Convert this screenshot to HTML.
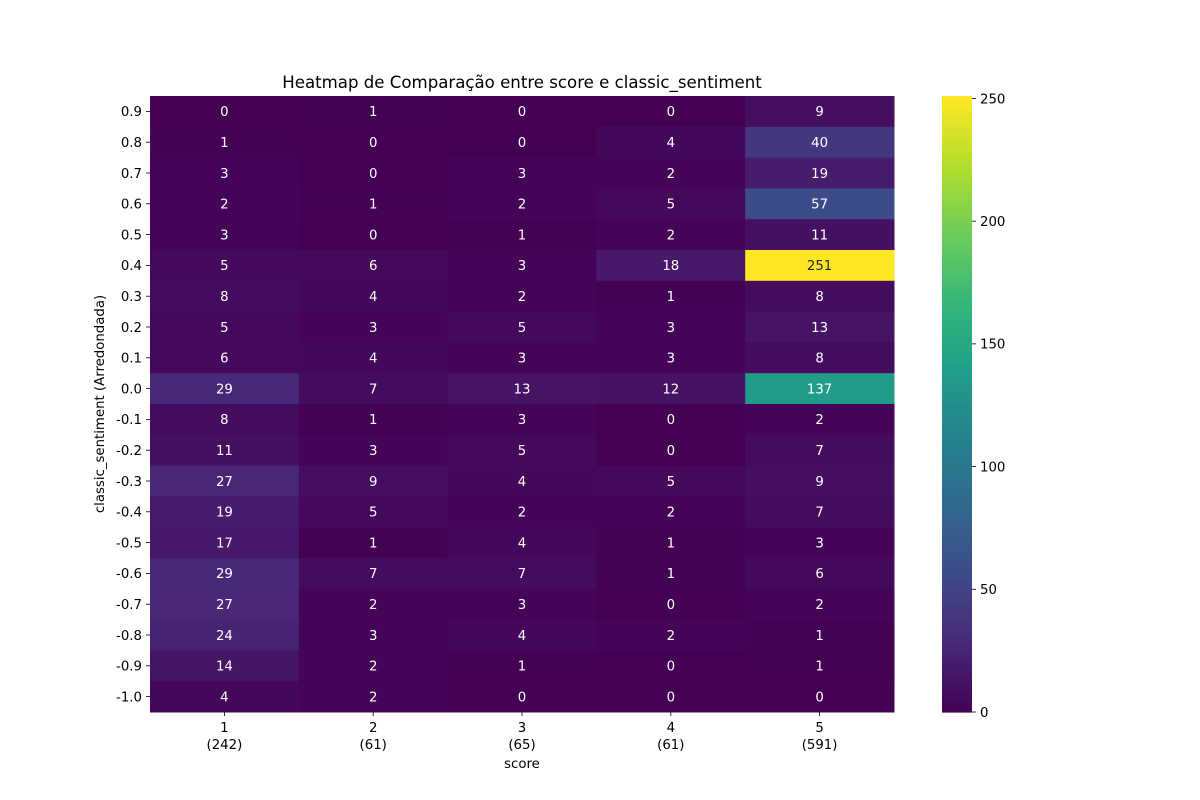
<!DOCTYPE html>
<html><head><meta charset="utf-8">
<style>
html,body{margin:0;padding:0;background:#fff;}
svg{display:block;font-family:"DejaVu Sans","Liberation Sans",sans-serif;}
</style></head>
<body>
<svg id="chart" width="1200" height="800" viewBox="0 0 1200 800" xmlns="http://www.w3.org/2000/svg">
<text x="522" y="88" text-anchor="middle" font-size="16.6" fill="#000">Heatmap de Comparação entre score e classic_sentiment</text>
<text x="522" y="768" text-anchor="middle" font-size="13.3" fill="#000">score</text>
<text transform="translate(104,404) rotate(-90)" text-anchor="middle" font-size="13.3" fill="#000">classic_sentiment (Arredondada)</text>
<g id="cells"></g>
<g id="axes"></g>
<g id="cbar"></g>
</svg>
<script>
const rowLabels = ["0.9","0.8","0.7","0.6","0.5","0.4","0.3","0.2","0.1","0.0","-0.1","-0.2","-0.3","-0.4","-0.5","-0.6","-0.7","-0.8","-0.9","-1.0"];
const colLabels = ["1","2","3","4","5"];
const colCounts = ["(242)","(61)","(65)","(61)","(591)"];
const values = [
[0,1,0,0,9],[1,0,0,4,40],[3,0,3,2,19],[2,1,2,5,57],[3,0,1,2,11],
[5,6,3,18,251],[8,4,2,1,8],[5,3,5,3,13],[6,4,3,3,8],[29,7,13,12,137],
[8,1,3,0,2],[11,3,5,0,7],[27,9,4,5,9],[19,5,2,2,7],[17,1,4,1,3],
[29,7,7,1,6],[27,2,3,0,2],[24,3,4,2,1],[14,2,1,0,1],[4,2,0,0,0]];
const cbarTicks = [0,50,100,150,200,250];

const NS="http://www.w3.org/2000/svg";
const X0=150,X1=894,Y0=96,Y1=712;
const vmax=Math.max(...values.flat()), vmin=0;
const cw=(X1-X0)/colLabels.length, rh=(Y1-Y0)/rowLabels.length;
const xPos=i=>X0+i*cw, yPos=j=>Y0+j*rh;
const stops=[[68,1,84],[72,40,120],[62,74,137],[49,104,142],[38,130,142],[31,158,137],[53,183,121],[109,205,89],[180,222,44],[253,231,37]];
function viridis(t){t=Math.max(0,Math.min(1,t));const p=t*(stops.length-1),i=Math.min(Math.floor(p),stops.length-2),f=p-i;
const a=stops[i],b=stops[i+1];return `rgb(${a.map((v,k)=>Math.round(v+(b[k]-v)*f)).join(",")})`;}
function mk(tag,attrs,parent){const e=document.createElementNS(NS,tag);for(const k in attrs)e.setAttribute(k,attrs[k]);parent.appendChild(e);return e;}
const cells=document.getElementById('cells'), axes=document.getElementById('axes'), cbar=document.getElementById('cbar');

values.forEach((row,j)=>row.forEach((v,i)=>{
  const r=mk('rect',{x:xPos(i),y:yPos(j),width:cw+0.5,height:rh+0.5,fill:viridis((v-vmin)/(vmax-vmin))},cells);
  
  
  const t=mk('text',{x:xPos(i)+cw/2,y:yPos(j)+rh/2+4.8,'text-anchor':'middle','font-size':13.3,fill:(v/vmax>0.7)?'#262626':'#fff'},cells);
  t.textContent=v;
  
  
}));

rowLabels.forEach((l,j)=>{
  const y=yPos(j)+rh/2;
  mk('line',{x1:X0-4,x2:X0,y1:y,y2:y,stroke:'#000','stroke-width':0.8},axes);
  const t=mk('text',{x:X0-8,y:y+4.8,'text-anchor':'end','font-size':13.3,fill:'#000'},axes);
  t.textContent=l;
  
  
});
colLabels.forEach((l,i)=>{
  const x=xPos(i)+cw/2;
  mk('line',{x1:x,x2:x,y1:Y1,y2:Y1+4,stroke:'#000','stroke-width':0.8},axes);
  const t=mk('text',{x:x,y:Y1+20,'text-anchor':'middle','font-size':13.3,fill:'#000'},axes);
  t.textContent=l;
  
  
  const t2=mk('text',{x:x,y:Y1+37,'text-anchor':'middle','font-size':13.3,fill:'#000'},axes);
  t2.textContent=colCounts[i];
  
  
});

const CX=942,CW=30;
const N=200;
for(let k=0;k<N;k++){
  const y=Y1-(k+1)*(Y1-Y0)/N;
  mk('rect',{x:CX,y:y,width:CW,height:(Y1-Y0)/N+0.6,fill:viridis((k+0.5)/N)},cbar);
}
const cy=v=>Y1-(v-vmin)/(vmax-vmin)*(Y1-Y0);
cbarTicks.forEach(v=>{
  const y=cy(v);
  mk('line',{x1:CX+CW,x2:CX+CW+4,y1:y,y2:y,stroke:'#000','stroke-width':0.8},cbar);
  const t=mk('text',{x:CX+CW+8,y:y+4.8,'font-size':13.3,fill:'#000'},cbar);
  t.textContent=v;
  
  
});
</script>
</body></html>
